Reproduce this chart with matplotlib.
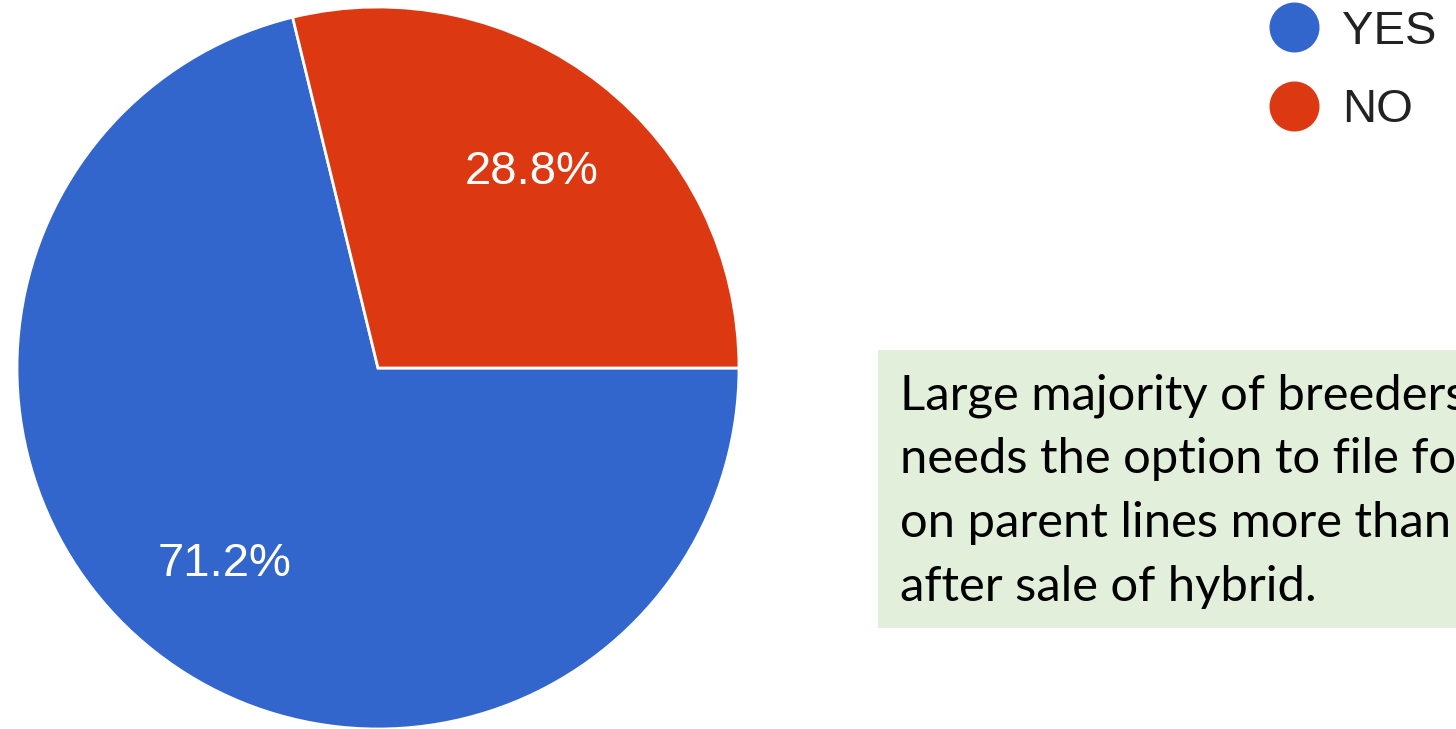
import matplotlib.pyplot as plt
from matplotlib.lines import Line2D
from matplotlib.patches import Rectangle

# Survey answers
answers = ["YES", "NO"]
shares = [71.2, 28.8]
colors = ["#3366cc", "#dc3912"]

note_lines = [
    "Large majority of breeders",
    "needs the option to file for",
    "on parent lines more than",
    "after sale of hybrid.",
]

W, H = 1456, 729
fig = plt.figure(figsize=(W / 100, H / 100), dpi=100)

# pie axes: centre (378, 368) px, radius 361 px
cx, cy, r = 378, 368, 361
ax = fig.add_axes([(cx - r) / W, (H - cy - r) / H, 2 * r / W, 2 * r / H])
wedges, texts, autotexts = ax.pie(
    shares,
    colors=colors,
    startangle=0,
    counterclock=False,
    autopct="%.1f%%",
    pctdistance=0.69,
    radius=1,
    wedgeprops=dict(edgecolor="white", linewidth=2),
    textprops=dict(color="white", fontsize=34, family="Liberation Sans"),
)
ax.set_xlim(-1, 1)
ax.set_ylim(-1, 1)
ax.set_aspect("equal")
ax.axis("off")

# legend with round markers
handles = [
    Line2D([], [], marker="o", linestyle="none", markersize=35,
           markerfacecolor=c, markeredgecolor=c)
    for c in colors
]
fig.legend(
    handles, answers,
    loc="upper left",
    bbox_to_anchor=(1270 / W, 1.0 - 10 / H),
    frameon=False,
    prop=dict(family="Liberation Sans", size=34),
    labelcolor="#222222",
    handlelength=1.0,
    handletextpad=0.53,
    labelspacing=0.73,
    borderpad=0,
    borderaxespad=0,
)

# note box on the right
fig.patches.append(Rectangle((878 / W, (H - 628) / H), 700 / W, 278 / H,
                             transform=fig.transFigure, facecolor="#e2efda",
                             edgecolor="none", zorder=0))
baselines = [409, 473, 537, 601]
for line, yb in zip(note_lines, baselines):
    fig.text(900 / W, 1 - yb / H, line, fontsize=35.3, family="Lato",
             color="black", va="baseline", ha="left")

fig.savefig("out.png", dpi=100)
